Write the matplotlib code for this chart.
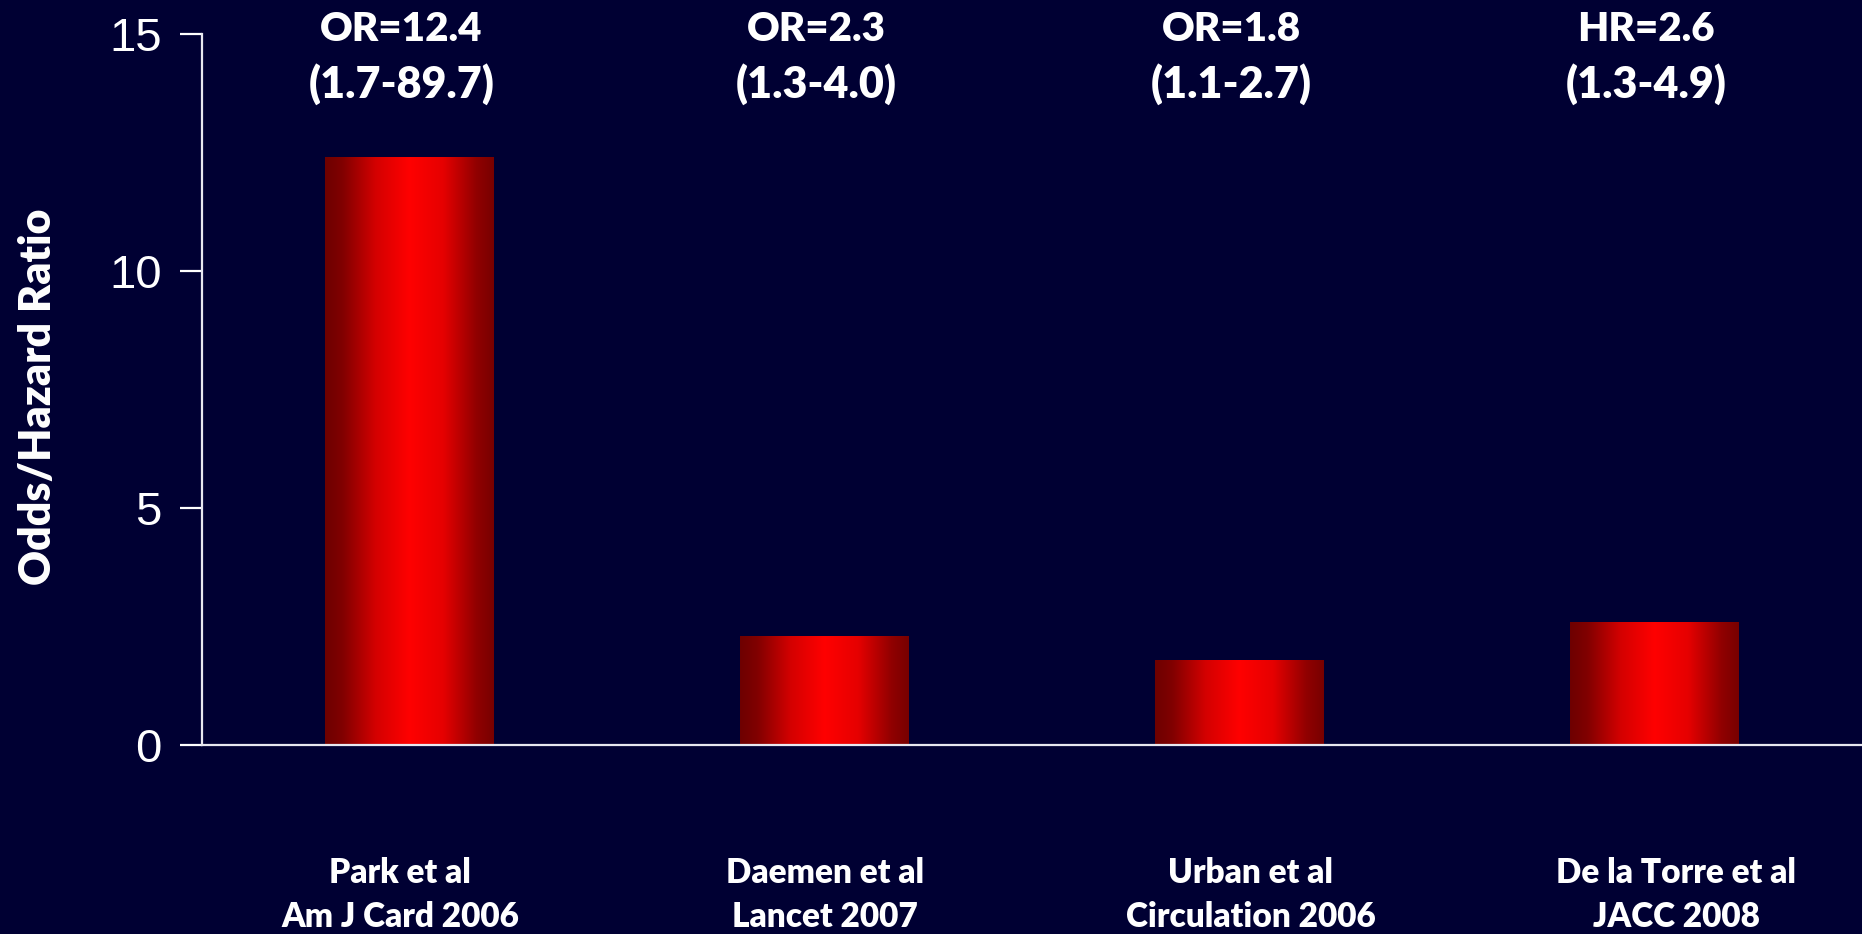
import matplotlib
matplotlib.use("Agg")
import matplotlib.pyplot as plt
import matplotlib.transforms as mtransforms
from matplotlib.colors import LinearSegmentedColormap
import numpy as np

# données
studies    = ["Park et al\nAm J Card 2006", "Daemen et al\nLancet 2007",
              "Urban et al\nCirculation 2006", "De la Torre et al\nJACC 2008"]
ratios     = [12.4, 2.3, 1.8, 2.6]
ratio_text = ["OR=12.4", "OR=2.3", "OR=1.8", "HR=2.6"]
ci_text    = ["(1.7-89.7)", "(1.3-4.0)", "(1.1-2.7)", "(1.3-4.9)"]
yticks     = [0, 5, 10, 15]

BG = '#000033'
FONT = 'Lato'
WEIGHT = 'heavy'

fig = plt.figure(figsize=(18.62, 9.34), dpi=100)
fig.patch.set_facecolor(BG)
ax = fig.add_axes([0.1085, 0.2024, 0.8915, 0.7612])
ax.set_facecolor(BG)

x = np.arange(len(ratios))
bars = ax.bar(x, ratios, width=0.405, color='none', edgecolor='none', zorder=2)

# dégradé horizontal rouge foncé -> rouge vif -> rouge foncé
cmap = LinearSegmentedColormap.from_list(
    "barred", [(0.0, '#6e0000'), (0.1, '#800000'), (0.3, '#d40000'),
               (0.5, '#ff0000'), (0.7, '#e60000'), (0.9, '#900000'),
               (1.0, '#780000')])
grad = np.linspace(0, 1, 256).reshape(1, -1)
for b in bars:
    x0, y0 = b.get_x(), b.get_y()
    im = ax.imshow(grad, cmap=cmap, aspect='auto', interpolation='bicubic',
                   extent=(x0, x0 + b.get_width(), y0, y0 + b.get_height()),
                   zorder=2)
    im.set_clip_path(b)

ax.set_xlim(-0.5, 3.5)
ax.set_ylim(0, 15)
ax.set_yticks(yticks)
ax.set_xticks([])
ax.tick_params(axis='y', colors='white', length=16, width=1.6, pad=13,
               labelsize=34)
for lab in ax.get_yticklabels():
    lab.set_fontfamily('Liberation Sans')

for s in ['top', 'right']:
    ax.spines[s].set_visible(False)
for s in ['left', 'bottom']:
    ax.spines[s].set_color('#e8e8f0')
    ax.spines[s].set_linewidth(1.6)
    ax.spines[s].set_zorder(3)

ax.set_ylabel("Odds/Hazard Ratio", color='white', fontsize=31,
              fontweight=WEIGHT, family=FONT)
ax.yaxis.set_label_coords(-0.087, 0.49)

# annotations au-dessus et noms des études en dessous
trans = mtransforms.blended_transform_factory(ax.transData, fig.transFigure)
for i in range(len(ratios)):
    xa = i - 0.02
    ax.text(xa, 0.956, ratio_text[i], transform=trans, ha='center',
            va='baseline', color='white', fontsize=29, fontweight=WEIGHT,
            family=FONT)
    ax.text(xa, 0.895, ci_text[i], transform=trans, ha='center',
            va='baseline', color='white', fontsize=31, fontweight=WEIGHT,
            family=FONT)
    xl = i * 1.025 - 0.023
    l1, l2 = studies[i].split("\n")
    ax.text(xl, 0.0546, l1, transform=trans, ha='center', va='baseline',
            color='white', fontsize=24, fontweight=WEIGHT, family=FONT)
    ax.text(xl, 0.0075, l2, transform=trans, ha='center', va='baseline',
            color='white', fontsize=24, fontweight=WEIGHT, family=FONT)

plt.savefig("out.png", dpi=100, facecolor=BG)
plt.close()
